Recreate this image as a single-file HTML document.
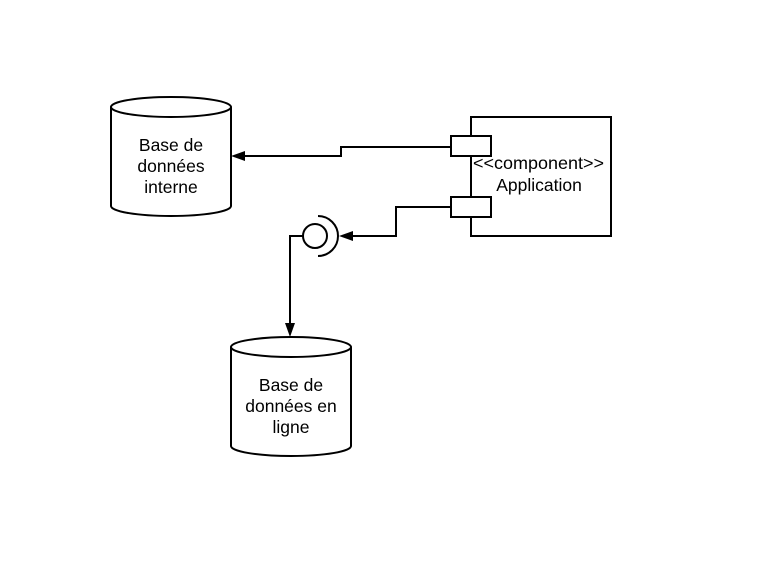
<!DOCTYPE html>
<html><head><style>body{margin:0;background:#fff}svg{display:block}text{font-family:"Liberation Sans",sans-serif;font-size:17.5px;fill:#000}</style></head><body>
<svg width="762" height="588" viewBox="0 0 762 588">
<g fill="#fff" stroke="#000" stroke-width="2">
<path d="M111 107 A60 10 0 0 1 231 107 L231 206 A60 10 0 0 1 111 206 Z"/>
<path d="M111 107 A60 10 0 0 0 231 107"/>
<path d="M231 347 A60 10 0 0 1 351 347 L351 446 A60 10 0 0 1 231 446 Z"/>
<path d="M231 347 A60 10 0 0 0 351 347"/>
<rect x="471" y="117" width="140" height="119"/>
<rect x="451" y="136" width="40" height="20"/>
<rect x="451" y="197" width="40" height="20"/>
</g>
<g fill="none" stroke="#000" stroke-width="2">
<path d="M451 147 H341 V156 H244"/>
<path d="M451 207 H396 V236 H352"/>
<circle cx="315" cy="236" r="12"/>
<path d="M318 216 A20 20 0 0 1 318 256"/>
<path d="M303 236 H290 V324"/>
</g>
<g fill="#000">
<polygon points="231,156 245,151 245,161"/>
<polygon points="339,236 353,231 353,241"/>
<polygon points="290,337 285,323 295,323"/>
</g>
<text x="171" y="151" text-anchor="middle">Base de</text>
<text x="171" y="172" text-anchor="middle">données</text>
<text x="171" y="193" text-anchor="middle">interne</text>
<text x="291" y="391" text-anchor="middle">Base de</text>
<text x="291" y="412" text-anchor="middle">données en</text>
<text x="291" y="433" text-anchor="middle">ligne</text>
<text x="473" y="169" textLength="131" lengthAdjust="spacingAndGlyphs">&lt;&lt;component&gt;&gt;</text>
<text x="539" y="191" text-anchor="middle">Application</text>
</svg>
</body></html>
